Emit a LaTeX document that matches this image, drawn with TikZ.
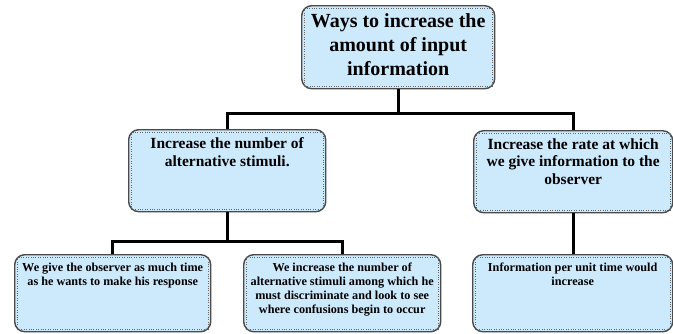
\documentclass[tikz,border=0pt]{standalone}
\usepackage{fontspec}
\setmainfont{Liberation Serif}
\usetikzlibrary{calc}
\definecolor{boxfill}{HTML}{CDEAFC}
\definecolor{boxline}{HTML}{4A4A4A}
\definecolor{dotline}{HTML}{666666}
\newcommand{\boxtext}[5]{\parbox[c][#2pt][t]{#1pt}{\centering\fontsize{#3}{#4}\selectfont\bfseries\vspace*{8pt}#5}}
\begin{document}
\begin{tikzpicture}[x=1pt,y=-1pt,
  box/.style={draw=boxline, line width=1.4pt, fill=boxfill, rounded corners=10pt, inner sep=0pt, anchor=north west},
  inner/.style={draw=dotline, dotted, line width=0.4pt},
  link/.style={line width=3pt, draw=black}]
\useasboundingbox[fill=white] (0,0) rectangle (673,333);

\node[box] (top) at (301,5) {\boxtext{193}{83}{20}{24}{Ways to increase the\\amount of input\\information}};
\node[box] (midL) at (128,129) {\boxtext{197}{82}{15.5}{17.5}{Increase the number of\\alternative stimuli.}};
\node[box] (midR) at (473,130) {\boxtext{199}{82}{15.5}{17.5}{Increase the rate at which\\we give information to the\\observer}};
\node[box] (botL) at (14,254) {\boxtext{196}{77}{12.2}{14.2}{We give the observer as much time\\as he wants to make his response}};
\node[box] (botM) at (243,254) {\boxtext{197}{77}{12.2}{14.2}{We increase the number of\\alternative stimuli among which he\\must discriminate and look to see\\where confusions begin to occur}};
\node[box] (botR) at (472,254) {\boxtext{200}{77}{12.2}{14.2}{Information per unit time would\\increase}};

\foreach \n in {top,midL,midR,botL,botM,botR}
  \draw[inner] ([shift={(3pt,-3pt)}]\n.north west) rectangle ([shift={(-3pt,3pt)}]\n.south east);

\draw[link] (top.south) -- ++(0,24) -| (midL.north);
\draw[link] (top.south) -- ++(0,24) -| (midR.north);
\draw[link] (midL.south) -- ++(0,29) -| (botL.north);
\draw[link] (midL.south) -- ++(0,29) -| (botM.north);
\draw[link] (midR.south) -- (midR.south |- botR.north);
\end{tikzpicture}
\end{document}
